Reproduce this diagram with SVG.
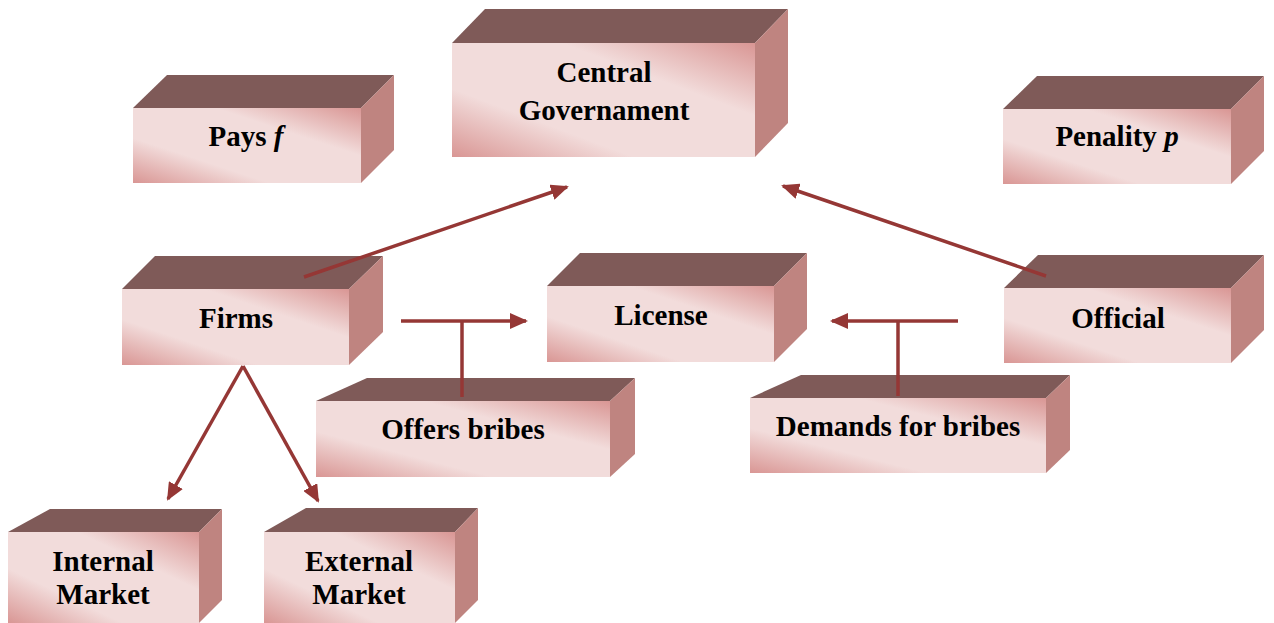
<svg xmlns="http://www.w3.org/2000/svg" width="1274" height="623" viewBox="0 0 1274 623">
<defs>
<linearGradient id="fg" x1="0" y1="1" x2="1" y2="0">
<stop offset="0" stop-color="#d99694"/>
<stop offset="0.3" stop-color="#f2dcdb"/>
<stop offset="0.68" stop-color="#f2dcdb"/>
<stop offset="1" stop-color="#d99694"/>
</linearGradient>
<marker id="ah" markerUnits="userSpaceOnUse" markerWidth="18" markerHeight="16" viewBox="0 0 18 16" refX="16" refY="8" orient="auto">
<path d="M0,0 L18,8 L0,16 Z" fill="#953735"/>
</marker>
<style>
.top{fill:#7f5a58}
.side{fill:#bf8480}
.front{fill:url(#fg)}
.lbl{font-family:"Liberation Serif","Times New Roman",serif;font-weight:bold;font-size:29px;fill:#000;text-anchor:middle}
.con{stroke:#953735;stroke-width:3.5;fill:none}
</style>
</defs>
<rect width="1274" height="623" fill="#fff"/>

<g id="central">
<polygon class="top" points="452,43 485,9 788,9 755,43"/>
<polygon class="side" points="755,43 788,9 788,123 755,157"/>
<rect class="front" x="452" y="43" width="303" height="114"/>
<text class="lbl" x="604" y="82">Central</text>
<text class="lbl" x="604" y="120">Governament</text>
</g>

<g id="pays">
<polygon class="top" points="133,108 167,75 394,75 361,108"/>
<polygon class="side" points="361,108 394,75 394,150 361,183"/>
<rect class="front" x="133" y="108" width="228" height="75"/>
<text class="lbl" x="246" y="146">Pays <tspan font-style="italic">f</tspan></text>
</g>

<g id="penality">
<polygon class="top" points="1003,109 1037,76 1264,76 1231,109"/>
<polygon class="side" points="1231,109 1264,76 1264,151 1231,184"/>
<rect class="front" x="1003" y="109" width="228" height="75"/>
<text class="lbl" x="1117" y="146">Penality <tspan font-style="italic">p</tspan></text>
</g>

<g id="firms">
<polygon class="top" points="122,289 155,256 383,256 349,289"/>
<polygon class="side" points="349,289 383,256 383,332 349,365"/>
<rect class="front" x="122" y="289" width="227" height="76"/>
<text class="lbl" x="236" y="328">Firms</text>
</g>

<g id="license">
<polygon class="top" points="547,286 580,253 807,253 774,286"/>
<polygon class="side" points="774,286 807,253 807,329 774,362"/>
<rect class="front" x="547" y="286" width="227" height="76"/>
<text class="lbl" x="661" y="325">License</text>
</g>

<g id="official">
<polygon class="top" points="1004,288 1038,255 1264,255 1231,288"/>
<polygon class="side" points="1231,288 1264,255 1264,330 1231,363"/>
<rect class="front" x="1004" y="288" width="227" height="75"/>
<text class="lbl" x="1118" y="328">Official</text>
</g>

<g id="offers">
<polygon class="top" points="316,401 367,378 635,378 610,401"/>
<polygon class="side" points="610,401 635,378 635,454 610,477"/>
<rect class="front" x="316" y="401" width="294" height="76"/>
<text class="lbl" x="463" y="439">Offers bribes</text>
</g>

<g id="demands">
<polygon class="top" points="750,398 801,375 1070,375 1046,398"/>
<polygon class="side" points="1046,398 1070,375 1070,450 1046,473"/>
<rect class="front" x="750" y="398" width="296" height="75"/>
<text class="lbl" x="898" y="436">Demands for bribes</text>
</g>

<g id="internal">
<polygon class="top" points="8,532 50,509 222,509 199,532"/>
<polygon class="side" points="199,532 222,509 222,600 199,623"/>
<rect class="front" x="8" y="532" width="191" height="91"/>
<text class="lbl" x="103" y="571">Internal</text>
<text class="lbl" x="103" y="604">Market</text>
</g>

<g id="external">
<polygon class="top" points="264,532 306,508 478,508 455,532"/>
<polygon class="side" points="455,532 478,508 478,600 455,623"/>
<rect class="front" x="264" y="532" width="191" height="91"/>
<text class="lbl" x="359" y="571">External</text>
<text class="lbl" x="359" y="604">Market</text>
</g>

<g id="connectors">
<line class="con" x1="304" y1="277" x2="567" y2="187" marker-end="url(#ah)"/>
<line class="con" x1="1046" y1="276" x2="783" y2="186" marker-end="url(#ah)"/>
<line class="con" x1="243" y1="366" x2="168" y2="499" marker-end="url(#ah)"/>
<line class="con" x1="243" y1="366" x2="318" y2="501" marker-end="url(#ah)"/>
<line class="con" x1="401" y1="321" x2="526" y2="321" marker-end="url(#ah)"/>
<line class="con" x1="462" y1="321" x2="462" y2="397"/>
<line class="con" x1="958" y1="321" x2="832" y2="321" marker-end="url(#ah)"/>
<line class="con" x1="898" y1="321" x2="898" y2="396"/>
</g>
</svg>
